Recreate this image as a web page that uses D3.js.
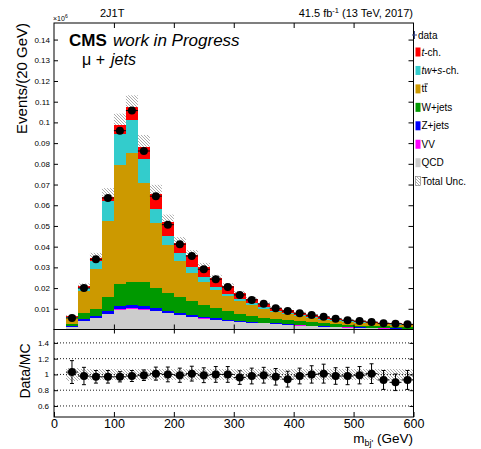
<!DOCTYPE html>
<html><head><meta charset="utf-8">
<script src="https://cdn.jsdelivr.net/npm/d3@7"></script>
<style>
body{margin:0;background:#fff}
svg{display:block;font-family:"Liberation Sans",Arial,Helvetica,sans-serif}
</style>
</head><body>
<svg id="c" width="481" height="449"></svg>
<script>
// ---- data (event counts in units of 10^6, 20 GeV bins) ----
const binLo = [20,40,60,80,100,120,140,160,180,200,220,240,260,280,300,320,340,360,380,400,420,440,460,480,500,520,540,560,580];
const binWidth = 20;
const qcd   = [.0012,.0042,.0055,.0075,.0095,.0100,.0096,.0087,.0078,.0070,.0061,.0053,.0047,.0041,.0036,.0032,.0029,.0026,.0022,.0019,.0016,.0013,.0011,.0009,.0007,.0006,.0004,.0003,.0002];
const vv    = [.0001,.0001,.0001,.0002,.0003,.0003,.0003,.0002,.0002,.0002,.0001,.0001,.0001,.0001,.0001,.0001,.0001,.0001,.0001,.0001,.0001,.0001,.0001,.0001,.0001,.0001,.0001,.0001,.0001];
const zjets = [.0003,.0008,.0010,.0013,.0015,.0017,.0015,.0013,.0011,.0010,.0009,.0008,.0006,.0004,.0003,.0003,.0002,.0002,.0002,.0002,.0002,.0002,.0002,.0002,.0002,.0001,.0001,.0001,.0001];
const wjets = [.0010,.0028,.0035,.0067,.0109,.0111,.0116,.0098,.0087,.0075,.0067,.0058,.0051,.0042,.0035,.0029,.0025,.0021,.0019,.0017,.0015,.0013,.0011,.0010,.0009,.0009,.0009,.0009,.0008];
const ttbar = [.0030,.0107,.0190,.0367,.0570,.0620,.0475,.0312,.0228,.0172,.0136,.0109,.0085,.0072,.0061,.0051,.0042,.0034,.0029,.0025,.0022,.0019,.0017,.0015,.0014,.0012,.0011,.0010,.0009];
const tws   = [.0005,.0013,.0041,.0097,.0151,.0163,.0119,.0068,.0045,.0039,.0026,.0023,.0016,.0012,.0012,.0011,.0008,.0007,.0006,.0005,.0004,.0004,.0003,.0003,.0002,.0002,.0002,.0002,.0002];
const tch   = [.0003,.0009,.0014,.0020,.0045,.0058,.0058,.0076,.0070,.0051,.0060,.0050,.0042,.0038,.0026,.0021,.0018,.0015,.0015,.0012,.0010,.0008,.0008,.0006,.0006,.0005,.0004,.0005,.0004];
const dataY = [.0056,.0200,.0339,.0635,.0960,.1057,.0862,.0644,.0506,.0412,.0355,.0291,.0243,.0205,.0167,.0143,.0124,.0103,.0089,.0079,.0070,.0061,.0052,.0045,.0041,.0036,.0030,.0028,.0025];
const uncRel = [.08,.07,.07,.065,.055,.055,.065,.065,.065,.065,.065,.065,.065,.065,.065,.065,.065,.065,.065,.065,.07,.07,.07,.07,.07,.07,.07,.07,.07];
const ratio    = [1.03,0.98,0.97,0.97,0.97,0.98,0.99,1.01,1.00,0.99,1.01,0.99,1.00,1.00,0.96,0.98,0.99,0.97,0.94,0.98,1.00,1.01,0.98,0.98,0.99,1.01,0.93,0.90,0.93];
const ratioErr = [0.145,0.11,0.08,0.08,0.065,0.07,0.067,0.083,0.094,0.09,0.094,0.094,0.10,0.10,0.086,0.10,0.10,0.105,0.10,0.10,0.11,0.12,0.105,0.11,0.11,0.125,0.12,0.105,0.12];
const ratioUnc = [0.08,0.07,0.07,0.07,0.065,0.065,0.07,0.07,0.07,0.07,0.07,0.07,0.07,0.07,0.07,0.07,0.07,0.07,0.07,0.07,0.07,0.07,0.07,0.07,0.07,0.07,0.07,0.07,0.07];
const yTicksMain = [0.01,0.02,0.03,0.04,0.05,0.06,0.07,0.08,0.09,0.10,0.11,0.12,0.13,0.14];
const yTickLabelsMain = ["0.01","0.02","0.03","0.04","0.05","0.06","0.07","0.08","0.09","0.1","0.11","0.12","0.13","0.14"];
const xTicks = [0,100,200,300,400,500,600];
const xTickLabels = ["0","100","200","300","400","500","600"];
const ratioTicks = [0.6,0.8,1.0,1.2,1.4];
const ratioTickLabels = ["0.6","0.8","1","1.2","1.4"];
const keys = ["qcd","vv","zjets","wjets","ttbar","tws","tch"];
const colors = {qcd:"#cccccc",vv:"#ff00ff",zjets:"#0000ff",wjets:"#009900",ttbar:"#cc9900",tws:"#33cccc",tch:"#ff0000"};

// ---- scales ----
const svg = d3.select("#c");
const X0 = 54, X1 = 413.5, MT = 23, MB = 329.5, RB = 417;
const x  = d3.scaleLinear().domain([0,600]).range([X0,X1]);
const y  = d3.scaleLinear().domain([0,0.148]).range([MB,MT]);
const yr = d3.scaleLinear().domain([0.46,1.57]).range([RB,MB]);

const rows = binLo.map((lo,i)=>({lo, qcd:qcd[i], vv:vv[i], zjets:zjets[i], wjets:wjets[i], ttbar:ttbar[i], tws:tws[i], tch:tch[i]}));
const series = d3.stack().keys(keys)(rows);
const totals = rows.map(r=>keys.reduce((a,k)=>a+r[k],0));

// hatch pattern
const defs = svg.append("defs");
const pat = defs.append("pattern").attr("id","hatch").attr("patternUnits","userSpaceOnUse").attr("width",3).attr("height",3);
pat.append("path").attr("d","M-1,-1 L4,4 M-1,2 L1,4 M2,-1 L4,1").attr("stroke","#8a8a8a").attr("stroke-width",0.7);

// ---- main panel: stack ----
const gm = svg.append("g");
series.forEach(s=>{
  gm.append("g").attr("fill",colors[s.key]).attr("shape-rendering","crispEdges")
    .selectAll("rect").data(s).join("rect")
    .attr("x",d=>x(d.data.lo)).attr("width",d=>x(d.data.lo+binWidth)-x(d.data.lo))
    .attr("y",d=>y(d[1])).attr("height",d=>Math.max(0,y(d[0])-y(d[1])));
});
// total uncertainty (upper part visible)
gm.append("g").selectAll("rect").data(binLo).join("rect")
  .attr("x",d=>x(d)).attr("width",d=>x(d+binWidth)-x(d))
  .attr("y",(d,i)=>y(totals[i]*(1+uncRel[i])))
  .attr("height",(d,i)=>y(totals[i])-y(totals[i]*(1+uncRel[i])))
  .attr("fill","url(#hatch)");
// data points
const gd = gm.append("g");
gd.selectAll("line").data(binLo).join("line")
  .attr("x1",d=>x(d)).attr("x2",d=>x(d+binWidth))
  .attr("y1",(d,i)=>y(dataY[i])).attr("y2",(d,i)=>y(dataY[i]))
  .attr("stroke","#000").attr("stroke-width",1);
gd.selectAll("circle").data(binLo).join("circle")
  .attr("cx",d=>x(d+binWidth/2)).attr("cy",(d,i)=>y(dataY[i])).attr("r",4).attr("fill","#000");

// main frame + axes
gm.append("rect").attr("x",X0).attr("y",MT).attr("width",X1-X0).attr("height",MB-MT).attr("fill","none").attr("stroke","#000").attr("stroke-width",1);
const axL = svg.append("g").attr("transform",`translate(${X0},0)`)
  .call(d3.axisLeft(y).tickValues(yTicksMain).tickFormat((d,i)=>yTickLabelsMain[i]).tickSize(-4).tickPadding(4));
axL.select(".domain").remove();
axL.selectAll("text").attr("font-size",8).attr("font-family","Liberation Sans, Arial, sans-serif");
const axR = svg.append("g").attr("transform",`translate(${X1},0)`)
  .call(d3.axisRight(y).tickValues(yTicksMain).tickFormat("").tickSize(-5));
axR.select(".domain").remove();
const mx = xTicks.slice(1,-1);
const axB = svg.append("g").attr("transform",`translate(0,${MB})`).call(d3.axisBottom(x).tickValues(mx).tickFormat("").tickSize(-5));
axB.select(".domain").remove();
const axT = svg.append("g").attr("transform",`translate(0,${MT})`).call(d3.axisTop(x).tickValues(mx).tickFormat("").tickSize(-5));
axT.select(".domain").remove();

// ---- ratio panel ----
const gr = svg.append("g");
gr.append("g").selectAll("line").data(ratioTicks).join("line")
  .attr("x1",X0).attr("x2",X1).attr("y1",d=>yr(d)).attr("y2",d=>yr(d))
  .attr("stroke","#000").attr("stroke-width",0.9).attr("stroke-dasharray","1,2");
gr.append("g").selectAll("rect").data(binLo).join("rect")
  .attr("x",d=>x(d)).attr("width",d=>x(d+binWidth)-x(d))
  .attr("y",(d,i)=>yr(1+ratioUnc[i])).attr("height",(d,i)=>yr(1-ratioUnc[i])-yr(1+ratioUnc[i]))
  .attr("fill","url(#hatch)").attr("shape-rendering","crispEdges");
const gp = gr.append("g").attr("stroke","#000").attr("stroke-width",1);
binLo.forEach((lo,i)=>{
  const cx = x(lo+binWidth/2), cy = yr(ratio[i]);
  const t = yr(ratio[i]+ratioErr[i]), b = yr(ratio[i]-ratioErr[i]);
  gp.append("line").attr("x1",x(lo)).attr("x2",x(lo+binWidth)).attr("y1",cy).attr("y2",cy);
  gp.append("line").attr("x1",cx).attr("x2",cx).attr("y1",t).attr("y2",b);
  gp.append("line").attr("x1",cx-2).attr("x2",cx+2).attr("y1",t).attr("y2",t);
  gp.append("line").attr("x1",cx-2).attr("x2",cx+2).attr("y1",b).attr("y2",b);
});
gr.append("g").selectAll("circle").data(binLo).join("circle")
  .attr("cx",d=>x(d+binWidth/2)).attr("cy",(d,i)=>yr(ratio[i])).attr("r",4).attr("fill","#000");
gr.append("rect").attr("x",X0).attr("y",MB).attr("width",X1-X0).attr("height",RB-MB).attr("fill","none").attr("stroke","#000").attr("stroke-width",1);
const arL = svg.append("g").attr("transform",`translate(${X0},0)`)
  .call(d3.axisLeft(yr).tickValues(ratioTicks).tickFormat((d,i)=>ratioTickLabels[i]).tickSize(-4).tickPadding(5));
arL.select(".domain").remove();
arL.selectAll("text").attr("font-size",8).attr("font-family","Liberation Sans, Arial, sans-serif");
const arR = svg.append("g").attr("transform",`translate(${X1},0)`).call(d3.axisRight(yr).tickValues(ratioTicks).tickFormat("").tickSize(-4));
arR.select(".domain").remove();
const arB = svg.append("g").attr("transform",`translate(0,${RB})`)
  .call(d3.axisBottom(x).tickValues(xTicks).tickFormat((d,i)=>xTickLabels[i]).tickSize(-5).tickPadding(2));
arB.select(".domain").remove();
arB.selectAll("text").attr("font-size",12.5).attr("font-family","Liberation Sans, Arial, sans-serif").attr("dy","0.71em");
const arT = svg.append("g").attr("transform",`translate(0,${MB})`).call(d3.axisTop(x).tickValues(mx).tickFormat("").tickSize(-4));
arT.select(".domain").remove();

// ---- texts ----
svg.append("text").attr("transform","translate(26.5,23) rotate(-90)").attr("text-anchor","end")
  .attr("font-size",15).text("Events/(20 GeV)");
svg.append("text").attr("transform","translate(30,371) rotate(-90)").attr("text-anchor","middle")
  .attr("font-size",14).text("Data/MC");
const xt = svg.append("text").attr("x",413).attr("y",443).attr("text-anchor","end").attr("font-size",13.5);
xt.append("tspan").text("m");
xt.append("tspan").attr("font-size",9).attr("dy",3).text("bj'");
xt.append("tspan").attr("dy",-3).text(" (GeV)");
const ex = svg.append("text").attr("x",53).attr("y",21).attr("font-size",7);
ex.append("tspan").text("×10");
ex.append("tspan").attr("font-size",5).attr("dy",-3).text("6");
svg.append("text").attr("x",100).attr("y",17).attr("font-size",11).text("2J1T");
const lum = svg.append("text").attr("x",413).attr("y",17).attr("text-anchor","end").attr("font-size",11);
lum.append("tspan").text("41.5 fb");
lum.append("tspan").attr("font-size",7.5).attr("dy",-4).text("-1");
lum.append("tspan").attr("dy",4).text(" (13 TeV, 2017)");
svg.append("text").attr("x",69).attr("y",46).attr("font-size",17).attr("font-weight","bold").text("CMS");
svg.append("text").attr("x",113).attr("y",46).attr("font-size",17).attr("font-style","italic").text("work in Progress");
svg.append("text").attr("x",82).attr("y",64.5).attr("font-size",16).text("μ +");
svg.append("text").attr("x",111).attr("y",64.5).attr("font-size",16).attr("font-style","italic").text("jets");

// ---- legend ----
const lg = svg.append("g").attr("font-size",10);
lg.append("line").attr("x1",412).attr("x2",417).attr("y1",35).attr("y2",35).attr("stroke","#3a4a8a");
lg.append("line").attr("x1",414.5).attr("x2",414.5).attr("y1",31).attr("y2",39).attr("stroke","#3a4a8a");
lg.append("text").attr("x",418).attr("y",38.5).text("data");
const legItems = [
  {k:"tch", parts:[["t","italic"],["-ch.",""]]},
  {k:"tws", parts:[["tw","italic"],["+",""],["s","italic"],["-ch.",""]]},
  {k:"ttbar", parts:[["tt",""]], bar:true},
  {k:"wjets", parts:[["W+jets",""]]},
  {k:"zjets", parts:[["Z+jets",""]]},
  {k:"vv", parts:[["VV",""]]},
  {k:"qcd", parts:[["QCD",""]]},
  {k:"unc", parts:[["Total Unc.",""]]}
];
legItems.forEach((it,i)=>{
  const cy = 52 + i*18.45;
  lg.append("rect").attr("x",415.5).attr("y",cy-4.5).attr("width",5).attr("height",9)
    .attr("fill", it.k==="unc" ? "url(#hatch)" : colors[it.k])
    .attr("stroke", it.k==="unc" ? "#777" : "none").attr("stroke-width",0.6);
  const t = lg.append("text").attr("x",421.5).attr("y",cy+3.5);
  it.parts.forEach(p=>{ const ts=t.append("tspan").text(p[0]); if(p[1]) ts.attr("font-style",p[1]); });
  if(it.bar){
    lg.append("line").attr("x1",424.5).attr("x2",428).attr("y1",cy-5).attr("y2",cy-5).attr("stroke","#000").attr("stroke-width",0.8);
  }
});
</script>
</body></html>
